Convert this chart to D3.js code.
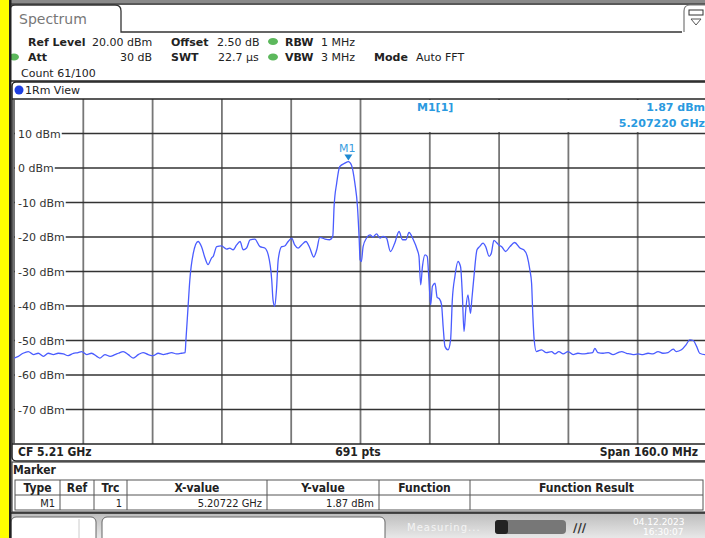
<!DOCTYPE html>
<html lang="en">
<head>
<meta charset="UTF-8">
<title>Spectrum</title>
<script src="https://cdn.jsdelivr.net/npm/d3@7"></script>
<style>
html,body {margin:0;padding:0;background:#fff;}
svg {display:block;font-family:"DejaVu Sans",Verdana,sans-serif;}
.cond {font-family:"DejaVu Sans Condensed","DejaVu Sans",sans-serif;}
</style>
</head>
<body>
<div id="chart"></div>
<script>
// trace: MHz from start of span (5.13 GHz) and level in dBm
const freqMHz = [0,1,2.1,3.3,4.5,5.6,6.8,7.9,9.1,10.2,11.4,12.5,13.7,14.8,15.6,16.8,17.9,19.1,19.8,21,22.2,23.3,24.1,25.2,26.4,27.5,28.7,29.8,31,32.1,33.3,34.5,35.2,36.4,37.5,38.7,39.5,
  39.7,40.2,40.6,41.4,42.5,43.3,44.1,44.8,45.6,46,46.8,47.9,49.1,49.8,50.6,51.4,52.2,52.9,53.7,54.5,55.6,56.8,57.9,58.7,59.5,59.8,60.2,60.6,61,61.8,62.5,63.3,64.1,64.8,65.6,66.4,67.4,68.3,69.2,69.9,70.6,71.8,72.9,73.6,
  73.9,74.5,75.2,76.4,77.2,77.9,78.7,79.3,79.7,79.9,80.2,80.6,81.4,82.2,82.9,83.7,84.5,85.2,86,86.9,87.9,88.9,89.7,90.5,91.2,92.2,93.1,93.5,93.9,94.3,94.9,95.4,95.8,96.2,96.6,97.2,97.7,98.2,98.7,99.1,99.5,100.2,100.8,
  101.2,101.8,102.5,103.1,103.5,103.9,104.3,104.8,105.4,105.7,106.2,106.9,107.5,108.3,108.9,109.7,110.2,110.8,111.4,111.9,112.6,113.5,114.5,115.6,116.8,117.7,118.5,119.1,119.5,119.8,120.1,120.6,
  121.8,122.9,124.1,124.9,125.8,126.8,127.9,129.1,130.2,131.4,132.5,133.6,134.1,134.8,136,137.2,138.3,139.5,140.3,141.4,142.2,142.9,144.1,145.2,146.4,147.5,148.7,149.8,151,152.2,152.9,154.1,155.2,156,156.8,157.6,158.3,159.5,160];
const levelDbm = [-55.1,-54.6,-53.7,-53.2,-54.1,-53.7,-54.6,-53.7,-54.1,-53.7,-53.9,-54.4,-53.7,-53.5,-53.2,-54.1,-53.7,-54.6,-55.1,-54.1,-54.6,-54.1,-53.7,-53.2,-54.1,-55.1,-54.1,-53.5,-54.1,-54.4,-53.7,-54.1,-53.9,-53.5,-53.9,-53.7,-53.5,
  -49.8,-40,-32.4,-24.7,-21.3,-22.8,-26.1,-28,-26.1,-25.6,-22.8,-22.6,-23.5,-23.2,-23.7,-22.3,-21.3,-23.7,-23.2,-20.8,-20.6,-22.8,-23.2,-25.2,-32.4,-38.2,-40.1,-35.3,-26.6,-22.8,-22.6,-21.3,-20.3,-22.3,-23.2,-22.3,-21.3,-23.2,-25.8,-23.7,-20.1,-20.6,-20.8,-19.8,
  -11.2,-4.4,0.4,1.4,1.87,0.9,-4.4,-11.2,-20.8,-26.6,-27.1,-22.8,-20.3,-19.4,-20,-19.1,-20.3,-19.8,-20.3,-24.2,-21.8,-18.4,-20.8,-20.8,-18.7,-20.8,-23.7,-25.6,-33.9,-28.6,-25.2,-25.6,-32.4,-39.7,-34.3,-33.4,-37.5,-37.9,-39.5,-46.3,-51.7,-52.7,-49.8,
  -38.2,-31.4,-27.1,-28.6,-36.3,-47.4,-41.1,-36.8,-42.1,-38.2,-31.4,-23.7,-22.8,-21.8,-22.8,-25.6,-24.7,-21,-21.6,-22.3,-22.8,-24.2,-22.8,-21.6,-23.2,-23.7,-25.6,-29.5,-33.4,-43,-49.8,-53.2,
  -52.7,-53.5,-53.2,-53.9,-53.2,-53.9,-53.2,-54.1,-53.7,-53.9,-53.7,-53.5,-52.3,-53.5,-53.7,-53.5,-54.1,-53.5,-53.2,-53.7,-53.9,-54.1,-53.9,-54.1,-53.7,-53.9,-53.2,-53.7,-53.5,-52.5,-53.2,-52.7,-51.2,-49.8,-50,-51.7,-53.7,-54.1,-54.1];

const levelTicks = [10,0,-10,-20,-30,-40,-50,-60,-70];
const freqGrid = [16,32,48,64,80,96,112,128,144];

const marker = {name:"M1", f:77.2, level:1.87, label:"M1[1]", readLevel:"1.87 dBm", readFreq:"5.207220 GHz"};

const infoRows = [
  [{t:"Ref Level",x:28,b:1},{t:"20.00 dBm",x:92},{t:"Offset",x:171,b:1},{t:"2.50 dB",x:217},{dot:273},{t:"RBW",x:285,b:1},{t:"1 MHz",x:321}],
  [{dot:14},{t:"Att",x:28,b:1},{t:"30 dB",x:152,a:"end"},{t:"SWT",x:171,b:1},{t:"22.7 µs",x:218},{dot:273},{t:"VBW",x:285,b:1},{t:"3 MHz",x:321},{t:"Mode",x:374,b:1},{t:"Auto FFT",x:416}],
  [{t:"Count 61/100",x:21}]
];

const tableCols = ["Type","Ref","Trc","X-value","Y-value","Function","Function Result"];
const tableEdges = [15,60,94,127,267,379,470,703];
const tableRow = ["M1","","1","5.20722 GHz","1.87 dBm","",""];

const W = 705, H = 538;
const svg = d3.select("#chart").append("svg").attr("width", W).attr("height", H);

const x = d3.scaleLinear().domain([0,160]).range([14,707]);
const y = d3.scaleLinear().domain([-80,20]).range([444,99]);

// left stripe + top band
svg.append("rect").attr("x",0).attr("y",0).attr("width",W).attr("height",H).attr("fill","#fff");
svg.append("rect").attr("x",0).attr("y",0).attr("width",W).attr("height",3).attr("fill","#8a8a8a");
svg.append("line").attr("x1",0).attr("x2",W).attr("y1",4).attr("y2",4).attr("stroke","#222").attr("stroke-width",1.5);

// tab
svg.append("path")
  .attr("d","M10,33 L10,10 Q10,5 15,5 L115,5 Q121,5 121,11 L121,32 L682,32")
  .attr("fill","#fff").attr("stroke","#333").attr("stroke-width",1.3);
svg.append("text").attr("x",19).attr("y",24).attr("font-size",14).attr("fill","#777").text("Spectrum");
// top right icon
svg.append("path").attr("d","M705,5 L690,5 Q684,5 684,11 L684,32")
  .attr("fill","none").attr("stroke","#777").attr("stroke-width",1.2);
svg.append("rect").attr("x",689).attr("y",10).attr("width",14).attr("height",5).attr("fill","none").attr("stroke","#333");
svg.append("path").attr("d","M691,19 L701,19 L696,25 Z").attr("fill","none").attr("stroke","#555");

// info block
svg.append("line").attr("x1",11).attr("x2",W).attr("y1",81).attr("y2",81).attr("stroke","#222").attr("stroke-width",1.3);
infoRows.forEach((row,i) => {
  const cy = [41.5,57,73][i];
  row.forEach(d => {
    if (d.dot !== undefined) {
      svg.append("ellipse").attr("cx",d.dot).attr("cy",cy).attr("rx",5).attr("ry",3.5).attr("fill","#5cb85c");
    } else {
      svg.append("text").attr("x",d.x).attr("y",cy+4).attr("font-size",11)
        .attr("font-weight",d.b ? "bold" : "normal").attr("text-anchor",d.a || "start")
        .attr("fill","#222").text(d.t);
    }
  });
});

// window frame
svg.append("rect").attr("x",12).attr("y",82).attr("width",700).attr("height",379).attr("rx",4)
  .attr("fill","#fff").attr("stroke","#222").attr("stroke-width",1.5);
svg.append("circle").attr("cx",19).attr("cy",90).attr("r",4.5).attr("fill","#1f3fe0");
svg.append("text").attr("x",25).attr("y",94).attr("font-size",11).attr("fill","#222").text("1Rm View");

// plot grid
const plot = svg.append("g");
plot.selectAll(".vg").data(freqGrid).join("line")
  .attr("x1",d=>x(d)).attr("x2",d=>x(d)).attr("y1",99).attr("y2",444)
  .attr("stroke","#777").attr("stroke-width",1.8);
plot.selectAll(".hg").data(levelTicks).join("line")
  .attr("x1",14).attr("x2",707).attr("y1",d=>y(d)).attr("y2",d=>y(d))
  .attr("stroke","#333").attr("stroke-width",1.4);
plot.append("line").attr("x1",12).attr("x2",707).attr("y1",99).attr("y2",99).attr("stroke","#222").attr("stroke-width",1.5);
plot.append("line").attr("x1",12).attr("x2",707).attr("y1",444).attr("y2",444).attr("stroke","#222").attr("stroke-width",1.5);
plot.append("line").attr("x1",14).attr("x2",14).attr("y1",99).attr("y2",444).attr("stroke","#444").attr("stroke-width",1.5);

// marker readout box hides grid top
plot.append("rect").attr("x",396).attr("y",100).attr("width",311).attr("height",32).attr("fill","#fff");

// level labels
levelTicks.forEach(v => {
  const t = plot.append("text").attr("x",18).attr("y",y(v)+4).attr("font-size",11).attr("fill","#333")
    .text(v + " dBm");
  const w = t.node().getComputedTextLength();
  plot.insert("rect","text").attr("x",15).attr("y",y(v)-6).attr("width",w+4).attr("height",12).attr("fill","#fff");
});

// trace
svg.append("clipPath").attr("id","clip").append("rect").attr("x",14).attr("y",99).attr("width",693).attr("height",345);
const line = d3.line().x((d,i)=>x(freqMHz[i])).y(d=>y(d)).curve(d3.curveMonotoneX);
svg.append("path").datum(levelDbm).attr("clip-path","url(#clip)")
  .attr("d",line).attr("fill","none").attr("stroke","#4a5cff").attr("stroke-width",1.3);

// marker
const mx = x(marker.f), my = y(marker.level);
svg.append("path").attr("d",`M${mx-4},${my-7} L${mx+4},${my-7} L${mx},${my-1} Z`).attr("fill","#1e88d0");
svg.append("text").attr("x",mx-1).attr("y",my-10).attr("text-anchor","middle").attr("font-size",11)
  .attr("fill","#3a9ee0").text(marker.name);
svg.append("text").attr("x",417).attr("y",111).attr("font-size",11).attr("font-weight","bold")
  .attr("fill","#2a9ae0").text(marker.label);
svg.append("text").attr("x",705).attr("y",111).attr("text-anchor","end").attr("font-size",11).attr("font-weight","bold")
  .attr("fill","#2a9ae0").text(marker.readLevel);
svg.append("text").attr("x",705).attr("y",127).attr("text-anchor","end").attr("font-size",11).attr("font-weight","bold")
  .attr("fill","#2a9ae0").text(marker.readFreq);

// bottom bar
svg.append("text").attr("class","cond").attr("x",18).attr("y",456).attr("font-size",12).attr("font-weight","bold").attr("fill","#222").text("CF 5.21 GHz");
svg.append("text").attr("class","cond").attr("x",358).attr("y",456).attr("text-anchor","middle").attr("font-size",12).attr("font-weight","bold").attr("fill","#222").text("691 pts");
svg.append("text").attr("class","cond").attr("x",698).attr("y",456).attr("text-anchor","end").attr("font-size",12).attr("font-weight","bold").attr("fill","#222").text("Span 160.0 MHz");

// marker table
svg.append("rect").attr("x",12).attr("y",462).attr("width",700).attr("height",50).attr("fill","#fff").attr("stroke","#444").attr("stroke-width",1.2);
svg.append("text").attr("class","cond").attr("x",13).attr("y",474).attr("font-size",12).attr("font-weight","bold").attr("fill","#222").text("Marker");
svg.append("rect").attr("x",15).attr("y",480).attr("width",688).attr("height",30).attr("fill","none").attr("stroke","#555");
svg.append("line").attr("x1",15).attr("x2",703).attr("y1",495).attr("y2",495).attr("stroke","#555");
tableEdges.slice(1,-1).forEach(e => {
  svg.append("line").attr("x1",e).attr("x2",e).attr("y1",480).attr("y2",510).attr("stroke","#555");
});
tableCols.forEach((c,i) => {
  svg.append("text").attr("class","cond").attr("x",(tableEdges[i]+tableEdges[i+1])/2).attr("y",492)
    .attr("text-anchor","middle").attr("font-size",12).attr("font-weight","bold").attr("fill","#222").text(c);
  svg.append("text").attr("class","cond").attr("x",tableEdges[i+1]-5).attr("y",507)
    .attr("text-anchor","end").attr("font-size",11).attr("fill","#222").text(tableRow[i]);
});

// status bar
const grad = svg.append("defs").append("linearGradient").attr("id","sb").attr("x1",0).attr("x2",0).attr("y1",0).attr("y2",1);
grad.append("stop").attr("offset","0%").attr("stop-color","#bdbdbd");
grad.append("stop").attr("offset","100%").attr("stop-color","#e8e8e8");
svg.append("rect").attr("x",0).attr("y",513).attr("width",W).attr("height",25).attr("fill","url(#sb)");
svg.append("line").attr("x1",0).attr("x2",W).attr("y1",513).attr("y2",513).attr("stroke","#222").attr("stroke-width",1.5);
svg.append("rect").attr("x",11).attr("y",517).attr("width",85).attr("height",26).attr("rx",5).attr("fill","#fff").attr("stroke","#666");
svg.append("line").attr("x1",79).attr("x2",79).attr("y1",519).attr("y2",538).attr("stroke","#ccc");
svg.append("rect").attr("x",102).attr("y",517).attr("width",283).attr("height",26).attr("rx",5).attr("fill","#fff").attr("stroke","#666");
svg.append("text").attr("x",407).attr("y",531).attr("font-size",10).attr("fill","#f4f4f4").attr("letter-spacing",1).text("Measuring...");
svg.append("rect").attr("x",495).attr("y",520).attr("width",71).attr("height",14).attr("rx",4).attr("fill","#777");
svg.append("rect").attr("x",495).attr("y",520).attr("width",13).attr("height",14).attr("rx",3).attr("fill","#222");
svg.append("text").attr("x",573).attr("y",532).attr("font-size",12).attr("font-weight","bold").attr("fill","#333").text("\u2215/\u2215");
svg.append("text").attr("x",633).attr("y",525).attr("font-size",9).attr("fill","#fff").text("04.12.2023");
svg.append("text").attr("x",643).attr("y",535).attr("font-size",9).attr("fill","#fff").text("16:30:07");

// left yellow stripe
svg.append("rect").attr("x",0).attr("y",0).attr("width",9).attr("height",H).attr("fill","#ffff00");
svg.append("rect").attr("x",9).attr("y",0).attr("width",2.5).attr("height",H).attr("fill","#222");
</script>
</body>
</html>
